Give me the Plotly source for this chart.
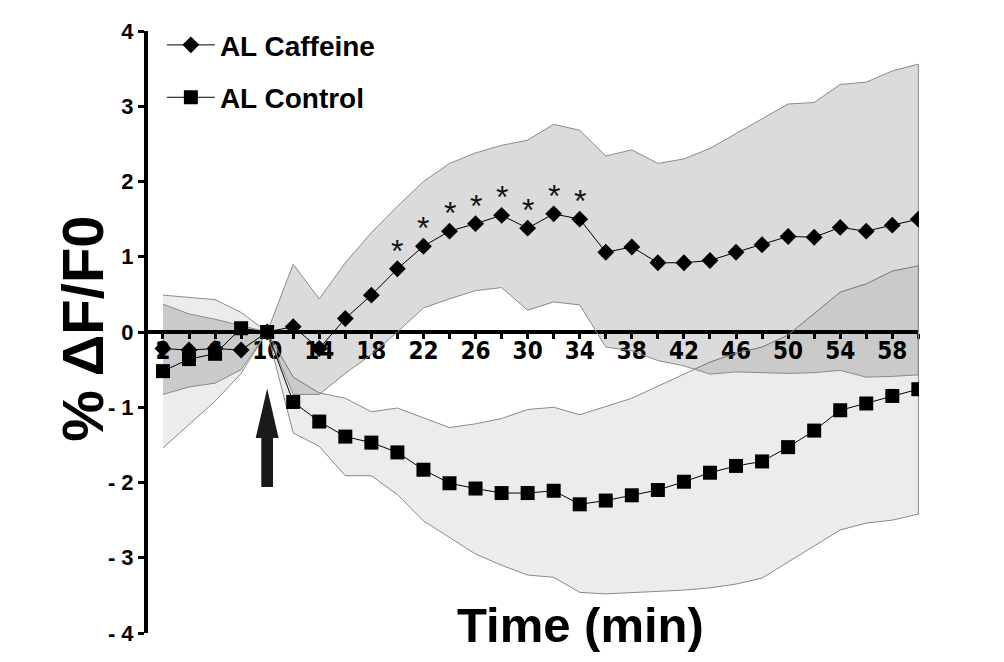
import plotly.graph_objects as go

# ---------------- data ----------------
time_min = [2, 4, 6, 8, 10, 12, 14, 16, 18, 20, 22, 24, 26, 28, 30,
            32, 34, 36, 38, 40, 42, 44, 46, 48, 50, 52, 54, 56, 58, 60]

caffeine = [-0.22, -0.24, -0.22, -0.24, 0.00, 0.07, -0.22, 0.18, 0.49, 0.84,
            1.14, 1.34, 1.44, 1.55, 1.38, 1.57, 1.50, 1.06, 1.13, 0.92,
            0.92, 0.95, 1.06, 1.16, 1.27, 1.26, 1.39, 1.34, 1.42, 1.50]
caffeine_upper = [0.37, 0.24, 0.17, 0.09, 0.00, 0.90, 0.44, 0.92, 1.32, 1.67,
                  2.00, 2.24, 2.38, 2.48, 2.55, 2.76, 2.68, 2.34, 2.42, 2.24,
                  2.30, 2.44, 2.64, 2.84, 3.03, 3.05, 3.29, 3.32, 3.47, 3.56]
caffeine_lower = [-0.83, -0.73, -0.68, -0.50, 0.00, -0.83, -0.83, -0.55, -0.30, 0.00,
                  0.32, 0.44, 0.55, 0.59, 0.29, 0.40, 0.36, -0.20, -0.25, -0.38,
                  -0.45, -0.56, -0.53, -0.54, -0.55, -0.54, -0.51, -0.60, -0.59, -0.57]

control = [-0.52, -0.36, -0.29, 0.05, 0.00, -0.93, -1.19, -1.39, -1.47, -1.60,
           -1.83, -2.01, -2.08, -2.14, -2.14, -2.11, -2.29, -2.24, -2.17, -2.10,
           -1.99, -1.87, -1.78, -1.72, -1.53, -1.31, -1.04, -0.95, -0.85, -0.76]
control_upper = [0.49, 0.46, 0.43, 0.26, 0.00, -0.60, -0.81, -0.88, -1.06, -1.01,
                 -1.14, -1.27, -1.22, -1.15, -1.03, -1.00, -1.10, -0.99, -0.88, -0.72,
                 -0.56, -0.40, -0.28, -0.20, -0.04, 0.25, 0.53, 0.64, 0.81, 0.88]
control_lower = [-1.54, -1.23, -0.92, -0.55, 0.00, -1.34, -1.52, -1.91, -1.91, -2.16,
                 -2.51, -2.73, -2.95, -3.10, -3.23, -3.26, -3.46, -3.48, -3.47, -3.45,
                 -3.43, -3.40, -3.35, -3.27, -3.05, -2.84, -2.63, -2.54, -2.50, -2.42]

significant_times = [20, 22, 24, 26, 28, 30, 32, 34]

x_tick_vals = [2, 6, 10, 14, 18, 22, 26, 30, 34, 38, 42, 46, 50, 54, 58]
x_tick_text = [str(v) for v in x_tick_vals]
y_tick_vals = [4, 3, 2, 1, 0, -1, -2, -3, -4]
y_tick_text = ["4", "3", "2", "1", "0", "- 1", "- 2", "- 3", "- 4"]

X_RANGE = [0.85, 60.05]
Y_RANGE = [-4, 4]

# arrow marking caffeine application
ARROW_T = 10
ARROW_TIP, ARROW_HEAD_BASE, ARROW_BOTTOM = -0.75, -1.41, -2.06
ARROW_HEAD_HALF, ARROW_SHAFT_HALF = 0.88, 0.45

FONT = "Liberation Sans, Arial, sans-serif"
NARROW = "DejaVu Sans Condensed, Liberation Sans Narrow, Arial Narrow, Liberation Sans, sans-serif"

fig = go.Figure()


def band(upper, lower, fill):
    xs = time_min + time_min[::-1]
    ys = upper + lower[::-1]
    fig.add_trace(go.Scatter(x=xs, y=ys, mode="lines", fill="toself",
                             fillcolor=fill, line=dict(color="#8a8a8a", width=1),
                             showlegend=False, hoverinfo="skip"))


band(control_upper, control_lower, "rgba(0,0,0,0.075)")
band(caffeine_upper, caffeine_lower, "rgba(0,0,0,0.14)")

fig.add_trace(go.Scatter(x=time_min, y=caffeine, mode="lines+markers",
                         name="AL Caffeine", legendgroup="caf",
                         line=dict(color="black", width=1),
                         marker=dict(symbol="diamond", size=13, color="black")))
fig.add_trace(go.Scatter(x=time_min, y=control, mode="lines+markers",
                         name="AL Control", legendgroup="ctl",
                         line=dict(color="black", width=1),
                         marker=dict(symbol="square", size=14, color="black")))

# significance asterisks above the caffeine points
for t in significant_times:
    fig.add_annotation(x=t, y=caffeine[time_min.index(t)], xref="x", yref="y",
                       text="*", showarrow=False, yshift=18,
                       xanchor="center", yanchor="middle",
                       font=dict(family=FONT, size=32, color="#111111"))

# arrow
arrow_path = (f"M {ARROW_T - ARROW_SHAFT_HALF},{ARROW_BOTTOM} "
              f"L {ARROW_T - ARROW_SHAFT_HALF},{ARROW_HEAD_BASE} "
              f"L {ARROW_T - ARROW_HEAD_HALF},{ARROW_HEAD_BASE} "
              f"L {ARROW_T},{ARROW_TIP} "
              f"L {ARROW_T + ARROW_HEAD_HALF},{ARROW_HEAD_BASE} "
              f"L {ARROW_T + ARROW_SHAFT_HALF},{ARROW_HEAD_BASE} "
              f"L {ARROW_T + ARROW_SHAFT_HALF},{ARROW_BOTTOM} Z")
fig.add_shape(type="path", path=arrow_path, xref="x", yref="y",
              fillcolor="#1a1a1a", line=dict(color="#1a1a1a", width=0))

x_axis_pos = (0 - Y_RANGE[0]) / (Y_RANGE[1] - Y_RANGE[0])

# page body has an 8px default margin, so the figure is 8px smaller
fig.update_layout(
    width=996, height=654,
    margin=dict(l=140, r=85, t=19, b=29),
    paper_bgcolor="white", plot_bgcolor="white",
    showlegend=True,
    legend=dict(x=0.018, y=1.018, xanchor="left", yanchor="top",
                traceorder="grouped", tracegroupgap=13, itemwidth=48,
                font=dict(family=FONT, size=28, color="black", weight="bold"),
                bgcolor="rgba(0,0,0,0)"),
    xaxis=dict(range=X_RANGE, anchor="free", position=x_axis_pos,
               showline=True, linecolor="black", linewidth=4,
               showgrid=False, zeroline=False,
               tickmode="array", tickvals=x_tick_vals, ticktext=x_tick_text,
               ticks="outside", ticklen=5, tickwidth=3, tickcolor="black",
               minor=dict(dtick=2, tick0=0, ticks="outside", ticklen=5,
                          tickwidth=3, tickcolor="black", showgrid=False),
               tickfont=dict(family=NARROW, size=24, color="black", weight="bold"),
               ticklabelstandoff=-9,
               layer="below traces"),
    yaxis=dict(range=Y_RANGE, showline=True, linecolor="black", linewidth=4,
               showgrid=False, zeroline=False,
               tickmode="array", tickvals=y_tick_vals, ticktext=y_tick_text,
               ticks="outside", ticklen=6, tickwidth=3, tickcolor="black",
               tickfont=dict(family=FONT, size=22, color="black", weight="bold")),
)

fig.add_annotation(text="% ΔF/F0", xref="paper", yref="paper",
                   x=-0.085, y=0.506, xanchor="center", yanchor="middle",
                   textangle=-90, showarrow=False,
                   font=dict(family=FONT, size=58, color="black", weight="bold"))
fig.add_annotation(text="Time (min)", xref="paper", yref="paper",
                   x=0.561, y=0.013, xanchor="center", yanchor="middle",
                   showarrow=False,
                   font=dict(family=FONT, size=49, color="black", weight="bold"))

fig.write_html("out.html")
